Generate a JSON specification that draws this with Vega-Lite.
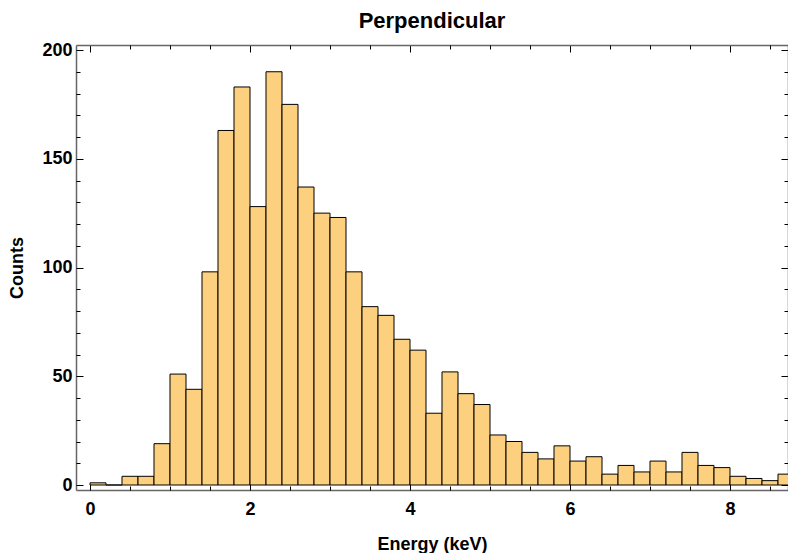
{
  "$schema": "https://vega.github.io/schema/vega-lite/v6.json",
  "width": 712,
  "height": 445,
  "autosize": {"type": "none"},
  "padding": {"left": 76, "top": 45, "right": 0, "bottom": 63},
  "background": "white",
  "title": {"text": "Perpendicular", "font": "Liberation Sans", "fontSize": 22, "fontWeight": "bold", "color": "black", "anchor": "middle", "offset": 8},
  "data": {"values": [
    {"start": 0.0, "end": 0.2, "count": 1},
    {"start": 0.2, "end": 0.4, "count": 0},
    {"start": 0.4, "end": 0.6, "count": 4},
    {"start": 0.6, "end": 0.8, "count": 4},
    {"start": 0.8, "end": 1.0, "count": 19},
    {"start": 1.0, "end": 1.2, "count": 51},
    {"start": 1.2, "end": 1.4, "count": 44},
    {"start": 1.4, "end": 1.6, "count": 98},
    {"start": 1.6, "end": 1.8, "count": 163},
    {"start": 1.8, "end": 2.0, "count": 183},
    {"start": 2.0, "end": 2.2, "count": 128},
    {"start": 2.2, "end": 2.4, "count": 190},
    {"start": 2.4, "end": 2.6, "count": 175},
    {"start": 2.6, "end": 2.8, "count": 137},
    {"start": 2.8, "end": 3.0, "count": 125},
    {"start": 3.0, "end": 3.2, "count": 123},
    {"start": 3.2, "end": 3.4, "count": 98},
    {"start": 3.4, "end": 3.6, "count": 82},
    {"start": 3.6, "end": 3.8, "count": 78},
    {"start": 3.8, "end": 4.0, "count": 67},
    {"start": 4.0, "end": 4.2, "count": 62},
    {"start": 4.2, "end": 4.4, "count": 33},
    {"start": 4.4, "end": 4.6, "count": 52},
    {"start": 4.6, "end": 4.8, "count": 42},
    {"start": 4.8, "end": 5.0, "count": 37},
    {"start": 5.0, "end": 5.2, "count": 23},
    {"start": 5.2, "end": 5.4, "count": 20},
    {"start": 5.4, "end": 5.6, "count": 15},
    {"start": 5.6, "end": 5.8, "count": 12},
    {"start": 5.8, "end": 6.0, "count": 18},
    {"start": 6.0, "end": 6.2, "count": 11},
    {"start": 6.2, "end": 6.4, "count": 13},
    {"start": 6.4, "end": 6.6, "count": 5},
    {"start": 6.6, "end": 6.8, "count": 9},
    {"start": 6.8, "end": 7.0, "count": 6},
    {"start": 7.0, "end": 7.2, "count": 11},
    {"start": 7.2, "end": 7.4, "count": 6},
    {"start": 7.4, "end": 7.6, "count": 15},
    {"start": 7.6, "end": 7.8, "count": 9},
    {"start": 7.8, "end": 8.0, "count": 8},
    {"start": 8.0, "end": 8.2, "count": 4},
    {"start": 8.2, "end": 8.4, "count": 3},
    {"start": 8.4, "end": 8.6, "count": 2},
    {"start": 8.6, "end": 8.8, "count": 5}
  ]},
  "config": {
    "view": {"stroke": null},
    "axis": {
      "grid": false,
      "domainColor": "#666666",
      "domainWidth": 1.5,
      "tickColor": "black",
      "tickWidth": 1,
      "labelFont": "Liberation Sans",
      "labelFontSize": 18,
      "labelFontWeight": "bold",
      "labelColor": "black",
      "titleFont": "Liberation Sans",
      "titleFontSize": 18,
      "titleFontWeight": "bold",
      "titleColor": "black",
      "zindex": 1
    }
  },
  "resolve": {"axis": {"x": "independent", "y": "independent"}},
  "layer": [
    {
      "mark": {"type": "bar", "fill": "#fdd080", "stroke": "black", "strokeWidth": 1, "clip": true},
      "encoding": {
        "x": {"field": "start", "type": "quantitative", "scale": {"domain": [-0.175, 8.725], "nice": false, "zero": false},
              "axis": {"orient": "bottom", "values": [0, 2, 4, 6, 8], "ticks": false, "labelPadding": 10, "title": "Energy (keV)", "titlePadding": 17, "labelFlush": false}},
        "x2": {"field": "end"},
        "y": {"field": "count", "type": "quantitative", "scale": {"domain": [0, 200], "nice": false},
              "axis": {"orient": "left", "values": [0, 50, 100, 150, 200], "ticks": false, "labelPadding": 4, "title": "Counts", "titlePadding": 15, "labelFlush": false}},
        "y2": {"datum": 0}
      }
    },
    {
      "mark": {"type": "bar", "opacity": 0},
      "encoding": {
        "x": {"field": "start", "type": "quantitative",
              "axis": {"orient": "bottom", "values": [0, 2, 4, 6, 8], "tickSize": -7, "labels": false, "domain": false, "title": null}},
        "x2": {"field": "end"},
        "y": {"field": "count", "type": "quantitative",
              "axis": {"orient": "left", "values": [0, 50, 100, 150, 200], "tickSize": -7, "labels": false, "domain": false, "title": null}}
      }
    },
    {
      "mark": {"type": "bar", "opacity": 0},
      "encoding": {
        "x": {"field": "start", "type": "quantitative",
              "axis": {"orient": "bottom", "values": [0.5, 1, 1.5, 2.5, 3, 3.5, 4.5, 5, 5.5, 6.5, 7, 7.5, 8.5], "tickSize": -4, "labels": false, "domain": false, "title": null}},
        "x2": {"field": "end"},
        "y": {"field": "count", "type": "quantitative",
              "axis": {"orient": "left", "values": [10, 20, 30, 40, 60, 70, 80, 90, 110, 120, 130, 140, 160, 170, 180, 190], "tickSize": -4, "labels": false, "domain": false, "title": null}}
      }
    },
    {
      "mark": {"type": "bar", "opacity": 0},
      "encoding": {
        "x": {"field": "start", "type": "quantitative",
              "axis": {"orient": "top", "values": [0, 2, 4, 6, 8], "tickSize": -7, "labels": false, "title": null}},
        "x2": {"field": "end"},
        "y": {"field": "count", "type": "quantitative",
              "axis": {"orient": "right", "values": [0, 50, 100, 150, 200], "tickSize": -7, "labels": false, "title": null}}
      }
    },
    {
      "mark": {"type": "bar", "opacity": 0},
      "encoding": {
        "x": {"field": "start", "type": "quantitative",
              "axis": {"orient": "top", "values": [0.5, 1, 1.5, 2.5, 3, 3.5, 4.5, 5, 5.5, 6.5, 7, 7.5, 8.5], "tickSize": -4, "labels": false, "domain": false, "title": null}},
        "x2": {"field": "end"},
        "y": {"field": "count", "type": "quantitative",
              "axis": {"orient": "right", "values": [10, 20, 30, 40, 60, 70, 80, 90, 110, 120, 130, 140, 160, 170, 180, 190], "tickSize": -4, "labels": false, "domain": false, "title": null}}
      }
    }
  ]
}
